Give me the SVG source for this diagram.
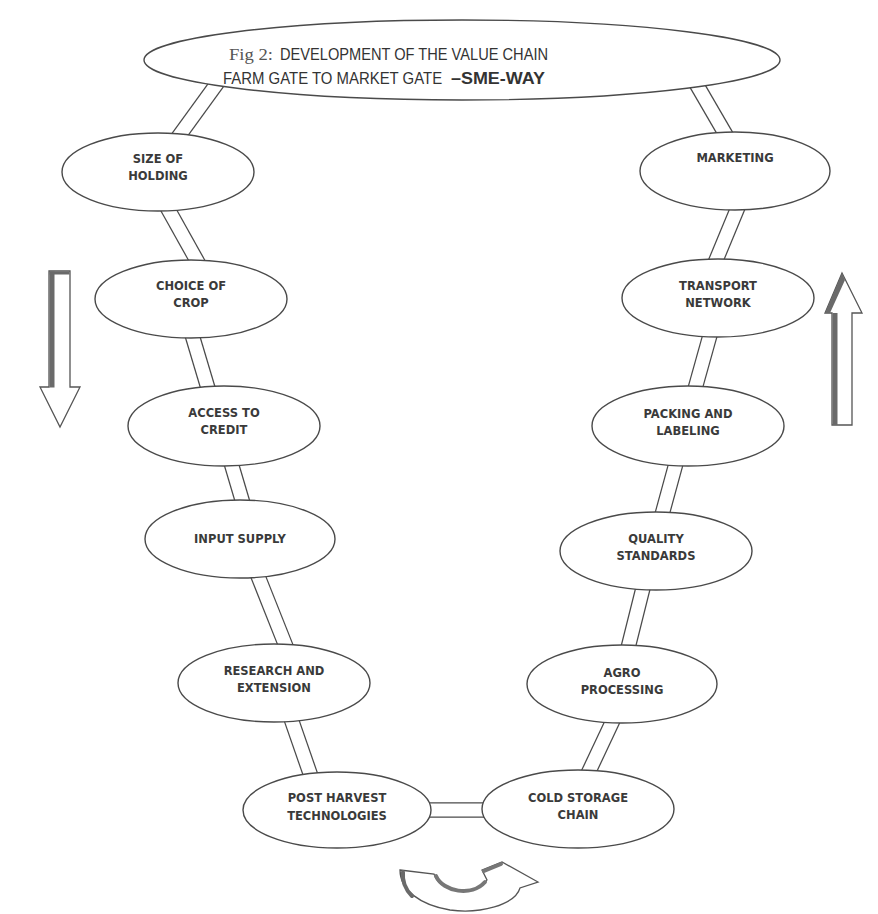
<svg xmlns="http://www.w3.org/2000/svg" width="878" height="914" viewBox="0 0 878 914">
<defs>
<style>
.bg{fill:#ffffff}
.node ellipse{fill:#ffffff;stroke:#4a4a4a;stroke-width:1.4}
.lbl{font-family:"DejaVu Sans","Liberation Sans",sans-serif;font-weight:bold;font-size:11.5px;fill:#3a3a3a;text-anchor:middle}
.band-o{stroke:#4a4a4a;stroke-width:15.5;fill:none;stroke-linecap:butt}
.band-i{stroke:#ffffff;stroke-width:13;fill:none;stroke-linecap:butt}
.arrow{fill:#ffffff;stroke:#555555;stroke-width:1.3;stroke-linejoin:miter}
.shadow{fill:#6a6a6a}
.title{font-family:"Liberation Sans","DejaVu Sans",sans-serif;font-size:16.5px;fill:#333333}
.title-serif{font-family:"Liberation Serif",serif;font-size:17px;fill:#555555}
</style>
</defs>
<rect class="bg" x="0" y="0" width="878" height="914"/>

<g id="connectors">
<path class="band-o" d="M221 78 L176 140"/><path class="band-i" d="M221 78 L176 140"/>
<path class="band-o" d="M163 200 L201 268"/><path class="band-i" d="M163 200 L201 268"/>
<path class="band-o" d="M190 328 L210 395"/><path class="band-i" d="M190 328 L210 395"/>
<path class="band-o" d="M229 456 L245 510"/><path class="band-i" d="M229 456 L245 510"/>
<path class="band-o" d="M254 566 L289 654"/><path class="band-i" d="M254 566 L289 654"/>
<path class="band-o" d="M288 710 L313 782"/><path class="band-i" d="M288 710 L313 782"/>
<path class="band-o" d="M420 810 L495 810"/><path class="band-i" d="M420 810 L495 810"/>
<path class="band-o" d="M694 80 L730 142"/><path class="band-i" d="M694 80 L730 142"/>
<path class="band-o" d="M741 200 L712 270"/><path class="band-i" d="M741 200 L712 270"/>
<path class="band-o" d="M712 328 L693 396"/><path class="band-i" d="M712 328 L693 396"/>
<path class="band-o" d="M678 456 L660 522"/><path class="band-i" d="M678 456 L660 522"/>
<path class="band-o" d="M645 580 L626 656"/><path class="band-i" d="M645 580 L626 656"/>
<path class="band-o" d="M616 714 L584 782"/><path class="band-i" d="M616 714 L584 782"/>
</g>

<g id="title" class="node">
<ellipse cx="462" cy="60" rx="318" ry="40"/>
<text class="title-serif" x="229" y="60" textLength="44" lengthAdjust="spacingAndGlyphs">Fig 2:</text>
<text class="title" x="280" y="60" textLength="268" lengthAdjust="spacingAndGlyphs">DEVELOPMENT OF THE VALUE CHAIN</text>
<text class="title" transform="translate(223 84) scale(0.905 1)" x="0" y="0">FARM GATE TO MARKET GATE</text>
<text class="title" x="451" y="84" textLength="94" lengthAdjust="spacingAndGlyphs" font-weight="bold">–SME-WAY</text>
</g>

<g id="size-of-holding" class="node">
<ellipse cx="158" cy="172" rx="96" ry="39"/>
<text class="lbl" x="158" y="163">SIZE OF</text>
<text class="lbl" x="158" y="180">HOLDING</text>
</g>
<g id="choice-of-crop" class="node">
<ellipse cx="191" cy="299" rx="96" ry="39"/>
<text class="lbl" x="191" y="290">CHOICE OF</text>
<text class="lbl" x="191" y="307">CROP</text>
</g>
<g id="access-to-credit" class="node">
<ellipse cx="224" cy="426" rx="96" ry="40"/>
<text class="lbl" x="224" y="417">ACCESS TO</text>
<text class="lbl" x="224" y="434">CREDIT</text>
</g>
<g id="input-supply" class="node">
<ellipse cx="240" cy="539" rx="95" ry="39"/>
<text class="lbl" x="240" y="543">INPUT SUPPLY</text>
</g>
<g id="research-and-extension" class="node">
<ellipse cx="274" cy="683" rx="96" ry="39"/>
<text class="lbl" x="274" y="675">RESEARCH AND</text>
<text class="lbl" x="274" y="692">EXTENSION</text>
</g>
<g id="post-harvest" class="node">
<ellipse cx="337" cy="810" rx="94" ry="38"/>
<text class="lbl" x="337" y="802">POST HARVEST</text>
<text class="lbl" x="337" y="820">TECHNOLOGIES</text>
</g>

<g id="marketing" class="node">
<ellipse cx="735" cy="171" rx="95" ry="39"/>
<text class="lbl" x="735" y="162">MARKETING</text>
</g>
<g id="transport-network" class="node">
<ellipse cx="718" cy="298" rx="96" ry="39"/>
<text class="lbl" x="718" y="290">TRANSPORT</text>
<text class="lbl" x="718" y="307">NETWORK</text>
</g>
<g id="packing-and-labeling" class="node">
<ellipse cx="688" cy="426" rx="96" ry="40"/>
<text class="lbl" x="688" y="418">PACKING AND</text>
<text class="lbl" x="688" y="435">LABELING</text>
</g>
<g id="quality-standards" class="node">
<ellipse cx="656" cy="551" rx="96" ry="39"/>
<text class="lbl" x="656" y="543">QUALITY</text>
<text class="lbl" x="656" y="560">STANDARDS</text>
</g>
<g id="agro-processing" class="node">
<ellipse cx="622" cy="684" rx="95" ry="39"/>
<text class="lbl" x="622" y="677">AGRO</text>
<text class="lbl" x="622" y="694">PROCESSING</text>
</g>
<g id="cold-storage-chain" class="node">
<ellipse cx="578" cy="809" rx="96" ry="39"/>
<text class="lbl" x="578" y="802">COLD STORAGE</text>
<text class="lbl" x="578" y="819">CHAIN</text>
</g>

<g id="down-arrow">
<path class="arrow" d="M49 271 L70 271 L70 387 L80 387 L60 427 L40 387 L49 387 Z"/>
<rect class="shadow" x="49.5" y="271.5" width="5" height="116"/>
<rect class="shadow" x="49.5" y="271.5" width="20" height="3"/>
</g>
<g id="up-arrow">
<path class="arrow" d="M832 425 L852 425 L852 313 L862 313 L842 273 L825 313 L832 313 Z"/>
<rect class="shadow" x="832.5" y="313" width="5" height="112"/>
<path class="shadow" d="M825 313 L842 273 L845 280 L830 313 Z"/>
</g>
<g id="cycle-arrow">
<path d="M400 870 L434 874 C440 893 475 898 487 880 L482 870 L502 862 L538 882 L520 888 C515 905 480 914 450 910 C420 905 400 890 400 870 Z" fill="#ffffff" stroke="#555555" stroke-width="1.3"/>
<path d="M403 872 C402 882 406 890 412 896" fill="none" stroke="#6a6a6a" stroke-width="4" stroke-linecap="round"/>
<path d="M436 876 C443 892 472 897 485 882" fill="none" stroke="#777777" stroke-width="4" stroke-linecap="round"/>
<path d="M484 871 L501 864" fill="none" stroke="#777777" stroke-width="4" stroke-linecap="round"/>
</g>
</svg>
